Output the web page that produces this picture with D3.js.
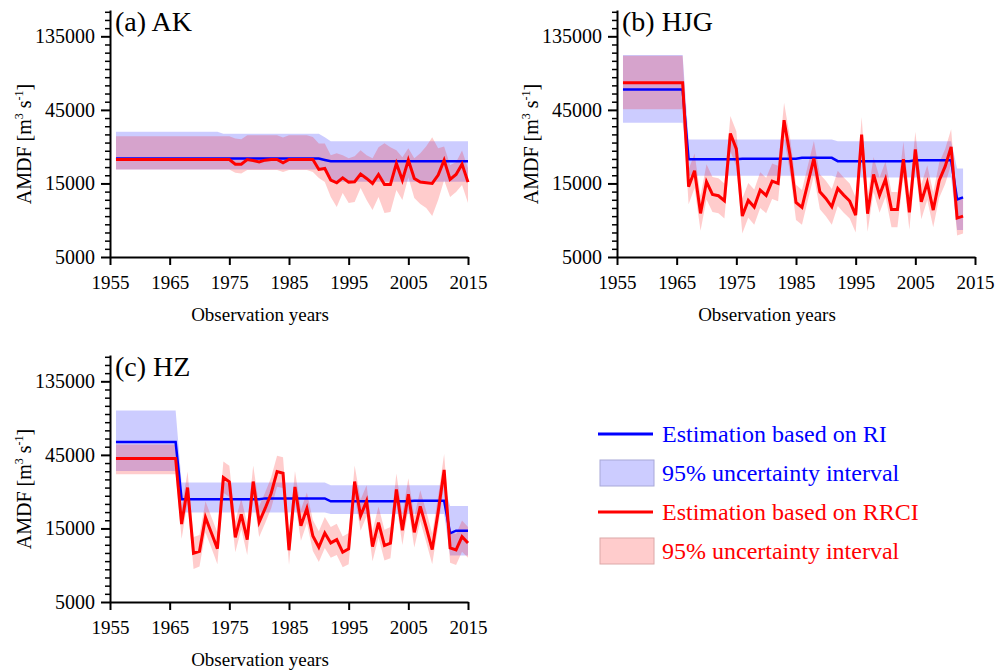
<!DOCTYPE html>
<html>
<head>
<meta charset="utf-8">
<script src="https://cdn.jsdelivr.net/npm/d3@7"></script>
<style>
  body { margin: 0; background: #ffffff; }
  svg { display: block; font-family: "Liberation Serif", "Times New Roman", serif; }
</style>
</head>
<body>
<svg id="chart" width="995" height="671"></svg>
<script>
// ---------------- Data: annual maximum daily flow (m3/s) ----------------
const akYears  = d3.range(1956, 2016);
const hjgYears = d3.range(1956, 2014);
const hzYears  = d3.range(1956, 2016);

// (a) AK — estimation based on RI and its 95% interval
const akRI = [
  21750,21750,21750,21750,21750,21750,21750,21750,21750,21750,
  21750,21750,21750,21750,21750,21750,21750,21750,21750,21750,
  21750,21750,21750,21750,21750,21750,21750,21750,21750,21750,
  21750,21750,21750,21750,21750,21300,20900,20900,20900,20900,
  20900,20900,20900,20900,20900,20900,20900,20900,20900,20900,
  20900,20900,20900,20900,20900,20900,20900,20900,20900,20900
];
const akRIHi = [
  32400,32400,32400,32400,32400,32400,32400,32400,32400,32400,
  32400,32400,32400,32400,32400,32400,32400,32400,31500,31500,
  31500,31500,31500,31500,31500,31500,31500,31500,31500,31500,
  31500,31500,31500,31500,31500,29900,28200,28200,28200,28200,
  28200,28200,28200,28200,28200,28200,28200,28200,28200,28200,
  28200,28200,28200,28200,28200,28200,28200,28200,28200,28200
];
const akRILo = [
  18500,18500,18500,18500,18500,18500,18500,18500,18500,18500,
  18500,18500,18500,18500,18500,18500,18500,18500,18500,18500,
  18500,18500,18500,18500,18500,18500,18500,18500,18500,18500,
  18500,18500,18500,18500,18500,18500,15400,15400,15400,15400,
  15400,15400,15400,15400,15400,15400,15400,15400,15400,15400,
  15400,15400,15400,15400,15400,15400,15400,15400,15400,15400
];
// (a) AK — estimation based on RRCI and its 95% interval
const akRRCI = [
  21450,21450,21450,21450,21450,21450,21450,21450,21450,21450,
  21450,21450,21450,21450,21450,21450,21450,21450,21450,21450,
  20000,20000,21450,21100,20700,21240,21450,21450,20400,21450,
  21450,21450,21450,21450,18480,18760,15760,15150,16320,15300,
  15380,17240,16160,15000,17150,14780,14780,20210,15760,21240,
  16160,15300,15150,15000,16980,21240,15920,17150,20010,15300
];
const akRRCIHi = [
  30400,30400,30400,30400,30400,30400,30400,30400,30400,30400,
  30400,30400,30400,30400,30400,30400,30400,30400,30400,30400,
  29300,29000,30800,30800,30800,30800,30800,30800,29800,30800,
  30800,30800,30800,30000,27250,27250,22890,23580,22890,21880,
  22550,24660,22890,21880,25790,27370,25790,24660,22220,25400,
  21880,23580,26170,29930,25400,26000,19720,20620,24500,18850
];
const akRRCILo = [
  18500,18500,18500,18500,18500,18500,18500,18500,18500,18500,
  18500,18500,18500,18500,18500,18500,18500,18500,18500,18500,
  17600,17400,18300,18300,18300,18300,18300,18300,17800,18300,
  18300,18300,18300,17800,16240,15300,12230,10540,12990,11190,
  11360,13990,11700,10080,12230,9640,9780,13580,11700,16480,
  12050,11020,10380,9215,11700,15760,12230,13180,14630,11190
];

// (b) HJG
const hjgRI = [
  60900,60900,60900,60900,60900,60900,60900,60900,60900,60900,
  60900,21560,21560,21560,21560,21560,21560,21560,21560,21560,
  21700,21700,21700,21700,21700,21700,21700,21700,21700,21700,
  22000,22000,22000,22000,22000,22000,20930,20930,20930,20930,
  20930,20930,20930,20930,20930,20930,20930,20930,20930,21200,
  21200,21200,21200,21200,21200,21200,11800,12170
];
const hjgRIHi = [
  102000,102000,102000,102000,102000,102000,102000,102000,102000,102000,
  102000,28900,28900,28900,28900,28900,28900,28900,28900,28900,
  28900,28900,28900,28900,28900,28900,28900,28900,28900,28900,
  28900,28900,28900,28900,28900,28900,28200,28200,28200,28200,
  28200,28200,28200,28200,28200,28200,28200,28200,28200,28200,
  28200,28200,28200,28200,28200,28200,18760,18760
];
const hjgRILo = [
  37100,37100,37100,37100,37100,37100,37100,37100,37100,37100,
  37100,16800,16800,16800,16800,16800,16800,16800,16800,16800,
  16800,16800,16800,16800,16800,16800,16800,16800,16800,16800,
  16800,16800,16800,16800,16800,16800,16400,16400,16400,16400,
  16400,16400,16400,16400,16400,16400,16400,16400,16400,16400,
  16400,16400,16400,16400,16400,16400,7480,7480
];
const hjgRRCI = [
  67600,67600,67600,67600,67600,67600,67600,67600,67600,67600,
  67600,14270,18120,9590,15380,12730,12480,11580,31620,25150,
  9215,11640,10540,13580,12540,15530,15000,38570,22890,11300,
  10490,15150,21780,13250,11990,10590,13920,12600,11530,9355,
  31150,9540,17150,12600,16000,10180,10180,21560,9730,24900,
  11410,15150,10080,15690,19330,25920,8945,9215
];
const hjgRRCIHi = [
  101000,101000,101000,101000,101000,101000,101000,101000,101000,101000,
  101000,18500,23500,12500,20000,16500,16200,15000,41000,32700,
  12000,15100,13700,17700,16300,20200,19500,50000,29800,14700,
  13600,19700,28300,17200,15600,13800,18100,16400,15000,12200,
  40500,12400,22300,16400,20800,13200,13200,28000,12600,32400,
  14800,19700,13100,20400,25100,33700,11600,12000
];
const hjgRRCILo = [
  45500,45500,45500,45500,45500,45500,45500,45500,45500,45500,
  45500,11000,14000,7400,11800,9800,9600,8900,24300,19300,
  7100,9000,8100,10400,9600,11900,11500,29700,17600,8700,
  8100,11700,16800,10200,9200,8100,10700,9700,8900,7200,
  24000,7300,13200,9700,12300,7800,7800,16600,7500,19200,
  8800,11700,7800,12100,14900,19900,6900,7100
];

// (c) HZ
const hzRI = [
  54500,54500,54500,54500,54500,54500,54500,54500,54500,54500,
  54500,23200,23200,23200,23200,23200,23200,23200,23200,23200,
  23200,23200,23200,23200,23200,23500,23500,23500,23500,23500,
  23500,23500,23500,23500,23500,23500,22500,22500,22500,22500,
  22500,22500,22500,22500,22500,22500,22500,22500,22500,22500,
  22700,22700,22700,22700,22700,22700,13950,14500,14500,14500
];
const hzRIHi = [
  87200,87200,87200,87200,87200,87200,87200,87200,87200,87200,
  87200,29800,29800,29800,29800,29800,29800,29800,29800,29800,
  29800,29800,29800,29800,29800,29800,29800,29800,29800,29800,
  29800,29800,29800,29800,29800,29800,28600,28600,28600,28600,
  28600,28600,28600,28600,28600,28600,28600,28600,28600,28600,
  28600,28600,28600,28600,28600,28600,21000,21000,21000,21000
];
const hzRILo = [
  35400,35400,35400,35400,35400,35400,35400,35400,35400,35400,
  35400,19050,19050,19050,19050,19050,19050,19050,19050,19050,
  19050,19050,19050,19050,19050,19050,19050,19050,19050,19050,
  19050,19050,19050,19050,19050,19050,18600,18600,18600,18600,
  18600,18600,18600,18600,18600,18600,18600,18600,18600,18600,
  18600,18600,18600,18600,18600,18600,10000,10000,10000,10000
];
const hzRRCI = [
  42700,42700,42700,42700,42700,42700,42700,42700,42700,42700,
  42700,16020,27630,10360,10670,17690,14010,11100,32060,30060,
  13140,18500,12690,30200,16510,20220,25280,35050,34190,10830,
  27900,15630,20220,13400,11320,14010,12080,12690,10510,11050,
  30200,18130,22550,11440,16340,11610,12020,26820,14580,25020,
  14150,20830,15250,10940,19240,35930,11210,10880,13270,12080
];
const hzRRCIHi = [
  52600,52600,52600,52600,52600,52600,52600,52600,52600,52600,
  52600,20300,35100,13200,13600,22500,17800,14100,40700,38200,
  16700,23500,16100,38400,21000,25700,32100,44500,43400,13800,
  35400,19900,25700,17000,14400,17800,15300,16100,13300,14000,
  38400,23000,28600,14500,20800,14700,15300,34100,18500,31800,
  18000,26500,19400,13900,24400,45600,14200,13800,16900,15300
];
const hzRRCILo = [
  33700,33700,33700,33700,33700,33700,33700,33700,33700,33700,
  33700,12800,22100,8200,8500,14100,11200,8800,25600,24000,
  10500,14800,10100,24200,13200,16200,20200,28000,27400,8700,
  22300,12500,16200,10700,9100,11200,9700,10100,8400,8800,
  24200,14500,18000,9200,13100,9300,9600,21500,11700,20000,
  11300,16700,12200,8800,15400,28700,9000,8700,10600,9700
];

// Axis ticks
const yTickValues = [5000, 15000, 45000, 135000];
const xTickValues = [1955, 1965, 1975, 1985, 1995, 2005, 2015];

// Legend entries
const legendItems = [
  { kind: "line", color: "#0000ff", label: "Estimation based on RI" },
  { kind: "band", color: "#0000ff", label: "95% uncertainty interval" },
  { kind: "line", color: "#ff0000", label: "Estimation based on RRCI" },
  { kind: "band", color: "#ff0000", label: "95% uncertainty interval" }
];

// ---------------- Drawing ----------------
const svg = d3.select("#chart");
const W = 358, H = 247;
const FONT = '"Liberation Serif", "Times New Roman", serif';

const x = d3.scaleLinear().domain([1955, 2015]).range([0, W]);
const y = d3.scaleLog().domain([5000, 200000]).range([H, 0]);

// minor ticks: eight per major step, evenly spaced on the log axis
const yMinor = [];
yTickValues.forEach(m => {
  for (let k = 1; k < 9; k++) {
    const v = m * Math.pow(3, k / 9);
    if (v < 200000) yMinor.push(v);
  }
});

const panels = [
  { title: "(a) AK",  left: 110, top: 10,  years: akYears,
    ri: akRI, riLo: akRILo, riHi: akRIHi, rr: akRRCI, rrLo: akRRCILo, rrHi: akRRCIHi },
  { title: "(b) HJG", left: 617, top: 10,  years: hjgYears,
    ri: hjgRI, riLo: hjgRILo, riHi: hjgRIHi, rr: hjgRRCI, rrLo: hjgRRCILo, rrHi: hjgRRCIHi },
  { title: "(c) HZ",  left: 110, top: 355, years: hzYears,
    ri: hzRI, riLo: hzRILo, riHi: hzRIHi, rr: hzRRCI, rrLo: hzRRCILo, rrHi: hzRRCIHi }
];

function drawPanel(p) {
  const g = svg.append("g").attr("transform", `translate(${p.left},${p.top})`);
  const rows = p.years.map((yr, i) => ({
    yr, ri: p.ri[i], riLo: p.riLo[i], riHi: p.riHi[i],
    rr: p.rr[i], rrLo: p.rrLo[i], rrHi: p.rrHi[i]
  }));

  const band = (lo, hi) => d3.area()
    .x(d => x(d.yr)).y0(d => y(d[lo])).y1(d => y(d[hi]));
  const line = key => d3.line().x(d => x(d.yr)).y(d => y(d[key]));

  g.append("path").datum(rows).attr("d", band("riLo", "riHi"))
    .attr("fill", "#0000ff").attr("fill-opacity", 0.2);
  g.append("path").datum(rows).attr("d", band("rrLo", "rrHi"))
    .attr("fill", "#ff0000").attr("fill-opacity", 0.2);
  g.append("path").datum(rows).attr("d", line("ri"))
    .attr("fill", "none").attr("stroke", "#0000ff").attr("stroke-width", 2.5);
  g.append("path").datum(rows).attr("d", line("rr"))
    .attr("fill", "none").attr("stroke", "#ff0000").attr("stroke-width", 3);

  // y axis: minor then major ticks
  g.append("g").attr("class", "minor")
    .call(d3.axisLeft(y).tickValues(yMinor).tickSize(5).tickSizeOuter(0).tickFormat(""))
    .call(a => a.select(".domain").remove())
    .call(a => a.selectAll("line").attr("stroke", "#000").attr("stroke-width", 1.5));
  g.append("g")
    .call(d3.axisLeft(y).tickValues(yTickValues).tickSize(9).tickSizeOuter(0)
      .tickPadding(6).tickFormat(d3.format("d")))
    .call(a => a.select(".domain").attr("stroke-width", 2))
    .call(a => a.selectAll("line").attr("stroke-width", 2))
    .call(a => a.selectAll("text").attr("font-family", FONT).attr("font-size", 20).attr("fill", "#000"));

  // x axis
  g.append("g").attr("transform", `translate(0,${H})`)
    .call(d3.axisBottom(x).tickValues(xTickValues).tickSize(8).tickSizeOuter(0)
      .tickPadding(11).tickFormat(d3.format("d")))
    .call(a => a.select(".domain").attr("stroke-width", 2))
    .call(a => a.selectAll("line").attr("stroke-width", 2))
    .call(a => a.selectAll("text").attr("font-family", FONT).attr("font-size", 19).attr("fill", "#000"));

  // panel title
  g.append("text").attr("x", 5).attr("y", 21)
    .attr("font-size", 28).attr("fill", "#000").text(p.title);

  // axis titles
  g.append("text").attr("x", W / 2 - 29).attr("y", H + 64)
    .attr("text-anchor", "middle").attr("font-size", 19).attr("fill", "#000")
    .text("Observation years");

  const yl = g.append("text")
    .attr("transform", `translate(-79,134) rotate(-90)`)
    .attr("text-anchor", "middle").attr("font-size", 20).attr("fill", "#000");
  yl.append("tspan").text("AMDF [m");
  yl.append("tspan").attr("font-size", 12).attr("dy", -8).text("3");
  yl.append("tspan").attr("dy", 8).text(" s");
  yl.append("tspan").attr("font-size", 12).attr("dy", -8).text("-1");
  yl.append("tspan").attr("dy", 8).text("]");
}

panels.forEach(drawPanel);

// legend
const lg = svg.append("g").attr("transform", "translate(598,434)");
legendItems.forEach((d, i) => {
  const row = lg.append("g").attr("transform", `translate(0,${i * 39})`);
  if (d.kind === "line") {
    row.append("line").attr("x1", 0).attr("x2", 55).attr("y1", 0).attr("y2", 0)
      .attr("stroke", d.color).attr("stroke-width", 3);
  } else {
    row.append("rect").attr("x", 2).attr("y", -13).attr("width", 54).attr("height", 26)
      .attr("fill", d.color).attr("fill-opacity", 0.2)
      .attr("stroke", d.color === "#0000ff" ? "#a8a8d8" : "#dca8a8").attr("stroke-width", 1);
  }
  row.append("text").attr("x", 64).attr("y", 8)
    .attr("font-size", 24).attr("fill", d.color).text(d.label);
});
</script>
</body>
</html>
